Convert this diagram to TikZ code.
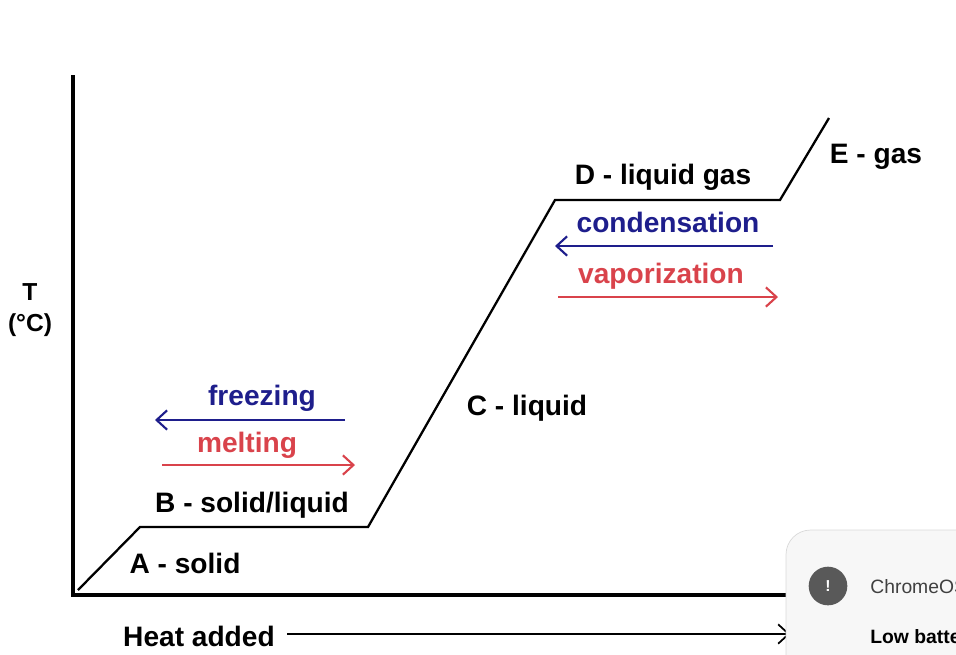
\documentclass[tikz,border=0pt]{standalone}
\usepackage{fontspec}
\setmainfont{Liberation Sans}
\usetikzlibrary{positioning,arrows.meta}
\definecolor{coolblue}{HTML}{1E1E8C}
\definecolor{warmred}{HTML}{D9434B}
\tikzset{
  lbl/.style={font=\fontsize{16}{18}\selectfont\bfseries, inner sep=0pt},
  phase/.style={line width=1.3pt, line join=miter},
  flow/.style={line width=1.2pt, -{Straight Barb[length=6pt,width=11pt]}},
}
\begin{document}
\begin{tikzpicture}[x=0.02cm,y=-0.02cm]
		\useasboundingbox (0,0) rectangle (956,654);
		\clip (0,0) rectangle (956,654);
		% axes
		\coordinate (o) at (73,595);
		\coordinate (ytop) at (73,75);
		\coordinate (xend) at (790,595);
		\draw[line width=2.3pt] (ytop) -- (o) -- (xend);
		\node[lbl, font=\fontsize{14}{16}\selectfont\bfseries] (t) at (30,292) {T};
		\node[lbl, font=\fontsize{14}{16}\selectfont\bfseries] (tu) at (30,325) {(°C)};
		% heating curve
		\coordinate (p0) at (78,590);
		\coordinate (p1) at (140,527);
		\coordinate (p2) at (368,527);
		\coordinate (p3) at (555,200);
		\coordinate (p4) at (780,200);
		\coordinate (p5) at (829,118);
		\draw[phase] (p0) -- (p1) -- (p2) -- (p3) -- (p4) -- (p5);
		\node[lbl] (a) at (185,563) {A - solid};
		\node[lbl] (b) at (252,505) {B - solid/liquid};
		\node[lbl] (c) at (527,408) {C - liquid};
		\node[lbl] (d) at (663,177) {D - liquid gas};
		\node[lbl] (e) at (876,157) {E - gas};
		% phase changes
		\node[lbl, coolblue] (frz) at (262,398) {freezing};
		\node[lbl, warmred] (mlt) at (247,445) {melting};
		\coordinate (f1) at (345,420); \coordinate (f2) at (155,420);
		\coordinate (m1) at (162,465); \coordinate (m2) at (355,465);
		\draw[flow, coolblue] (f1) -- (f2);
		\draw[flow, warmred] (m1) -- (m2);
		\node[lbl, coolblue] (cnd) at (668,222) {condensation};
		\node[lbl, warmred] (vap) at (661,276) {vaporization};
		\coordinate (c1) at (773,246); \coordinate (c2) at (555,246);
		\coordinate (v1) at (558,297); \coordinate (v2) at (778,297);
		\draw[flow, coolblue] (c1) -- (c2);
		\draw[flow, warmred] (v1) -- (v2);
		% x label
		\node[lbl] (heat) at (199,636) {Heat added};
		\coordinate (h1) at (287,634);
		\coordinate (h2) at (790,634);
		\draw[flow, line width=1pt] (h1) -- (h2);
		% notification
		\draw[black!15, fill=white!97!black, rounded corners=14] (786,530) rectangle (1000,700);
		\node[circle, fill=black!65, minimum size=22pt, inner sep=0pt, text=white,
		      font=\bfseries\small] (icon) at (828,586) {!};
		\node[anchor=west, inner sep=0pt, font=\fontsize{11}{13}\selectfont, text=black!75]
		      (os) at (870,587) {ChromeOS};
		\node[anchor=west, inner sep=0pt, font=\fontsize{11}{13}\selectfont\bfseries] (bat) at (870,638) {Low battery};
\end{tikzpicture}
\end{document}
